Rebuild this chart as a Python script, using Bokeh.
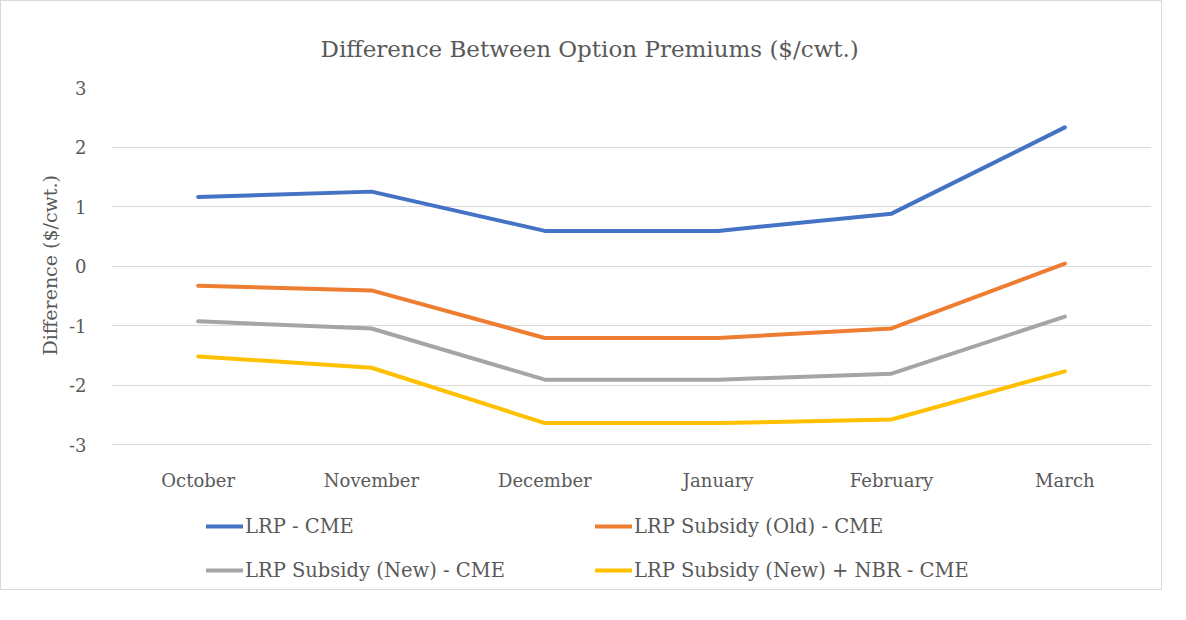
from bokeh.plotting import figure
from bokeh.models import (Legend, LegendItem, FixedTicker, Title,
                          CustomJSTickFormatter, Range1d)
from bokeh.embed import file_html
from bokeh.resources import INLINE

months = ["October", "November", "December", "January", "February", "March"]
lrp_cme = [1.16, 1.25, 0.59, 0.59, 0.88, 2.33]
lrp_sub_old = [-0.33, -0.41, -1.21, -1.21, -1.05, 0.04]
lrp_sub_new = [-0.93, -1.05, -1.91, -1.91, -1.81, -0.85]
lrp_sub_new_nbr = [-1.52, -1.71, -2.64, -2.64, -2.58, -1.77]
series_names = ["LRP - CME", "LRP Subsidy (Old) - CME",
                "LRP Subsidy (New) - CME", "LRP Subsidy (New) + NBR - CME"]
y_ticks = [-3, -2, -1, 0, 1, 2, 3]

FONT = "DejaVu Serif"
TXT = "#595959"

W, H = 1162, 590
top_px, grid_px, bottom_px = 86, 357, 5
frame_h = H - top_px - bottom_px
y_max = max(y_ticks)
y_min = min(y_ticks)
y_start = y_max - (y_max - y_min) * frame_h / grid_px

p = figure(width=W, height=H, x_range=months, y_range=Range1d(y_start, y_max),
           output_backend="svg", toolbar_location=None,
           min_border_left=110, min_border_right=12,
           min_border_top=top_px, min_border_bottom=bottom_px)
p.styles = {"border": "1px solid #d9d9d9"}
p.outline_line_color = None
p.background_fill_color = "white"
p.border_fill_color = "white"

t = Title(text="Difference Between Option Premiums ($/cwt.)", align="left",
          offset=209, text_font=FONT, text_font_size="23px",
          text_font_style="normal", text_color=TXT, standoff=52)
p.add_layout(t, "above")

colors = ["#4472C4", "#ED7D31", "#A5A5A5", "#FFC000"]
data = [lrp_cme, lrp_sub_old, lrp_sub_new, lrp_sub_new_nbr]
renderers = []
for vals, c in zip(data, colors):
    r = p.line(months, vals, line_color=c, line_width=4, line_cap="round",
               line_join="round")
    renderers.append(r)

p.xgrid.grid_line_color = None
p.ygrid.grid_line_color = "#d9d9d9"
p.ygrid.grid_line_width = 1
p.yaxis.ticker = FixedTicker(ticks=y_ticks)
p.yaxis.formatter = CustomJSTickFormatter(code="return tick.toString()")
p.xaxis.fixed_location = y_min

for ax in (p.xaxis[0], p.yaxis[0]):
    ax.axis_line_color = None
    ax.major_tick_line_color = None
    ax.minor_tick_line_color = None
    ax.major_label_text_font = FONT
    ax.major_label_text_color = TXT
    ax.major_label_text_font_size = "18px"

p.yaxis.major_label_standoff = 19
p.xaxis.major_label_standoff = 19

ylab = Title(text="Difference ($/cwt.)", align="left", offset=231,
             text_font=FONT, text_font_size="19px", text_font_style="normal",
             text_color=TXT, standoff=10)
p.add_layout(ylab, "left")

order = [0, 2, 1, 3]
items = [LegendItem(label=series_names[i], renderers=[renderers[i]]) for i in order]
lg = Legend(items=items, location=(95, 4), ncols=2,
            glyph_width=37, glyph_height=24, label_height=24, label_width=330,
            label_standoff=2, spacing=20, padding=0, margin=0,
            label_text_font=FONT, label_text_color=TXT,
            label_text_font_size="19.5px", border_line_color=None,
            background_fill_alpha=0)
p.add_layout(lg, "center")

open("out.html", "w").write(file_html(p, INLINE))
